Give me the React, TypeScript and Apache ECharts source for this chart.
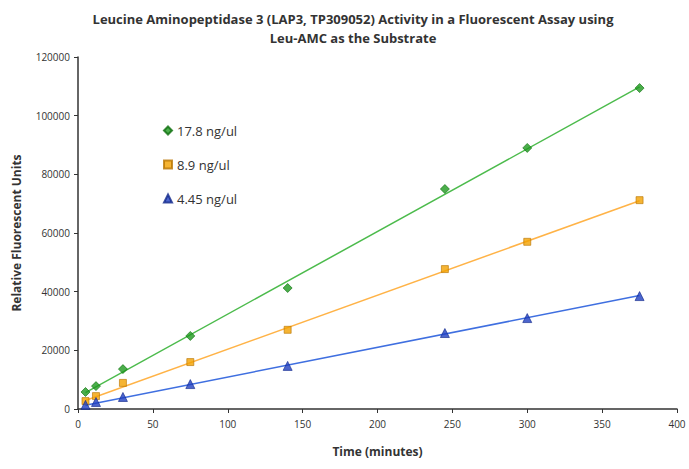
import React, { useEffect, useRef } from "react";
import * as echarts from "echarts";

const titleLine1 = "Leucine Aminopeptidase 3 (LAP3, TP309052) Activity in a Fluorescent Assay using";
const titleLine2 = "Leu-AMC as the Substrate";
const xName = "Time (minutes)";
const yName = "Relative Fluorescent Units";

const times = [5, 12, 30, 75, 140, 245, 300, 375];
const conc178 = [5800, 7800, 13600, 24900, 41250, 75000, 89000, 109400];
const conc89 = [2700, 4400, 8900, 16000, 27000, 47700, 57000, 71200];
const conc445 = [1400, 2400, 4100, 8500, 14700, 25900, 31000, 38500];

const trendX = [5, 375];
const trend178 = [5600, 109800];
const trend89 = [2900, 71000];
const trend445 = [1300, 38700];

const seriesNames = ["17.8 ng/ul", "8.9 ng/ul", "4.45 ng/ul"];

export default function App() {
  const ref = useRef<HTMLDivElement>(null);
  useEffect(() => {
    if (!ref.current) return;
    const chart = echarts.init(ref.current, null, { renderer: "svg" });
    const pts = (ys: number[]) => times.map((t, i) => [t, ys[i]]);
    const tr = (ys: number[]) => trendX.map((t, i) => [t, ys[i]]);
    const font = "'Open Sans', 'Noto Sans', sans-serif";
    chart.setOption({
      animation: false,
      backgroundColor: "#ffffff",
      title: {
        text: titleLine1 + "\n" + titleLine2,
        left: 348,
        top: 4,
        textAlign: "center",
        textStyle: {
          fontFamily: font,
          fontSize: 13,
          fontWeight: "bold",
          color: "#333333",
          lineHeight: 19,
        },
      },
      legend: {
        orient: "vertical",
        left: 158,
        top: 119,
        itemGap: 21,
        itemWidth: 8,
        itemHeight: 8,
        data: seriesNames,
        textStyle: { fontFamily: font, fontSize: 13, color: "#333333" },
      },
      grid: { left: 78, right: 12, top: 57, bottom: 60, containLabel: false },
      xAxis: {
        type: "value",
        min: 0,
        max: 400,
        interval: 50,
        name: xName,
        nameLocation: "middle",
        nameGap: 36,
        nameTextStyle: { fontFamily: font, fontSize: 12, fontWeight: "bold", color: "#333333" },
        axisLine: { show: true, lineStyle: { color: "#333333", width: 1.5 } },
        axisTick: { show: true, length: 4, lineStyle: { color: "#333333" } },
        axisLabel: { fontFamily: font, fontSize: 10, color: "#333333", margin: 10 },
        splitLine: { show: false },
      },
      yAxis: {
        type: "value",
        min: 0,
        max: 120000,
        interval: 20000,
        name: yName,
        nameLocation: "middle",
        nameGap: 56,
        nameTextStyle: { fontFamily: font, fontSize: 12, fontWeight: "bold", color: "#333333" },
        axisLine: { show: true, lineStyle: { color: "#333333", width: 1.5 } },
        axisTick: { show: true, length: 4, lineStyle: { color: "#333333" } },
        axisLabel: {
          fontFamily: font,
          fontSize: 10,
          color: "#333333",
          margin: 8,
          formatter: (v: number) => String(v),
        },
        splitLine: { show: false },
      },
      series: [
        {
          name: seriesNames[0] + " trend",
          type: "line",
          data: tr(trend178),
          symbol: "none",
          lineStyle: { color: "#4cbb4c", width: 1.5 },
          silent: true,
          z: 1,
        },
        {
          name: seriesNames[1] + " trend",
          type: "line",
          data: tr(trend89),
          symbol: "none",
          lineStyle: { color: "#ffb347", width: 1.5 },
          silent: true,
          z: 1,
        },
        {
          name: seriesNames[2] + " trend",
          type: "line",
          data: tr(trend445),
          symbol: "none",
          lineStyle: { color: "#3f6fe0", width: 1.5 },
          silent: true,
          z: 1,
        },
        {
          name: seriesNames[0],
          type: "scatter",
          data: pts(conc178),
          symbol: "diamond",
          symbolSize: 9,
          itemStyle: { color: "#1e9a1e", borderColor: "#0c6e0c", borderWidth: 0.8 },
          z: 3,
        },
        {
          name: seriesNames[1],
          type: "scatter",
          data: pts(conc89),
          symbol: "rect",
          symbolSize: 7,
          itemStyle: { color: "#f2a100", borderColor: "#b87400", borderWidth: 0.8 },
          z: 3,
        },
        {
          name: seriesNames[2],
          type: "scatter",
          data: pts(conc445),
          symbol: "triangle",
          symbolSize: 9,
          itemStyle: { color: "#1f3fc0", borderColor: "#12288a", borderWidth: 0.8 },
          z: 3,
        },
      ],
    });
    return () => chart.dispose();
  }, []);
  return <div ref={ref} style={{ width: 689, height: 469, position: "absolute", left: 0, top: 0 }} />;
}
